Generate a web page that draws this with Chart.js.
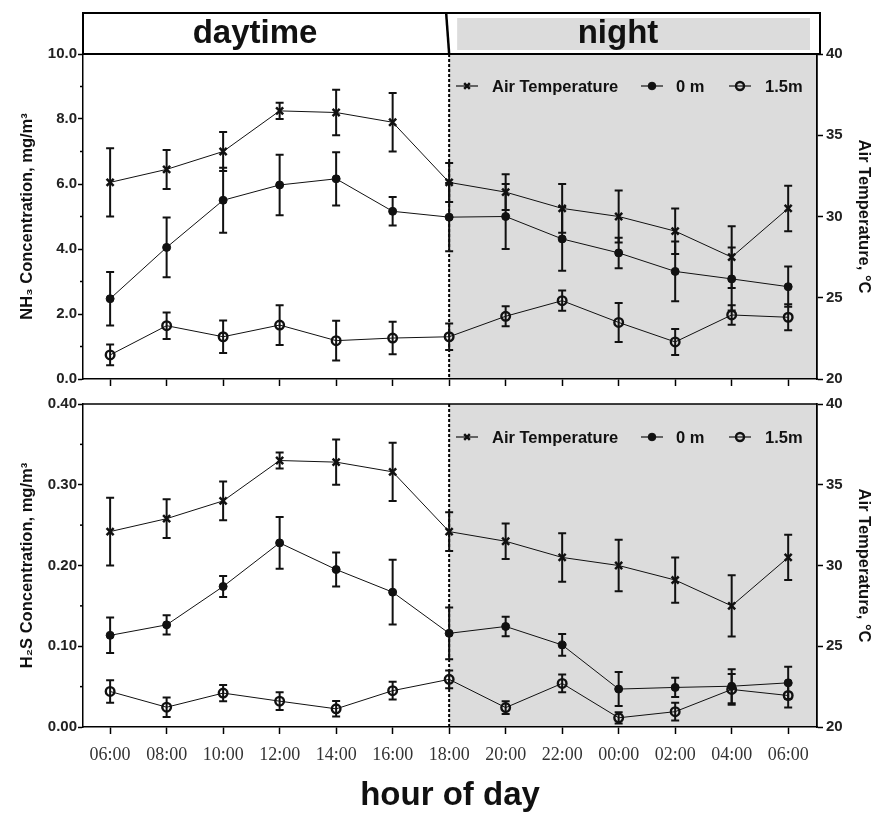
<!DOCTYPE html>
<html><head><meta charset="utf-8">
<script src="https://cdn.jsdelivr.net/npm/chart.js@4.4.1/dist/chart.umd.min.js"></script>
<style>
html,body{margin:0;padding:0;background:#fff;}
#top{position:absolute;left:0;top:0;}
#bot{position:absolute;left:0;top:392px;}
</style></head><body>
<canvas id="top" width="877" height="392"></canvas>
<canvas id="bot" width="877" height="421"></canvas>
<script>
// ---- data ----
const hours = ['06:00','08:00','10:00','12:00','14:00','16:00','18:00','20:00','22:00','00:00','02:00','04:00','06:00'];
const nightStartIndex = 6;
const airTemp    = [32.1, 32.9, 34.0, 36.5, 36.4, 35.8, 32.1, 31.5, 30.5, 30.0, 29.1, 27.5, 30.5];
const airTempErr = [2.1, 1.2, 1.2, 0.5, 1.4, 1.8, 1.2, 1.1, 1.5, 1.6, 1.4, 1.9, 1.4];
const nh3_0m     = [2.47, 4.05, 5.50, 5.97, 6.16, 5.16, 4.98, 5.00, 4.31, 3.88, 3.31, 3.08, 2.84];
const nh3_0mErr  = [0.82, 0.92, 1.00, 0.93, 0.82, 0.44, 1.05, 1.00, 0.98, 0.47, 0.92, 0.97, 0.62];
const nh3_15m    = [0.74, 1.64, 1.30, 1.66, 1.18, 1.26, 1.30, 1.93, 2.41, 1.74, 1.14, 1.97, 1.90];
const nh3_15mErr = [0.32, 0.41, 0.50, 0.61, 0.61, 0.50, 0.41, 0.31, 0.31, 0.60, 0.40, 0.30, 0.40];
const h2s_0m     = [0.1135, 0.1265, 0.174, 0.228, 0.195, 0.167, 0.116, 0.1245, 0.1016, 0.047, 0.049, 0.0505, 0.0547];
const h2s_0mErr  = [0.022, 0.012, 0.013, 0.032, 0.021, 0.040, 0.032, 0.012, 0.0135, 0.021, 0.012, 0.021, 0.020];
const h2s_15m    = [0.044, 0.0245, 0.042, 0.032, 0.0225, 0.045, 0.059, 0.024, 0.054, 0.0114, 0.019, 0.0465, 0.039];
const h2s_15mErr = [0.014, 0.012, 0.010, 0.011, 0.0096, 0.011, 0.011, 0.008, 0.011, 0.007, 0.011, 0.019, 0.015];
const seriesLabels = ['Air Temperature', '0 m', '1.5m'];
const headerLabels = ['daytime', 'night'];

// ---- styling helpers ----
const SANS = '"Liberation Sans", Arial, Helvetica, sans-serif';
const SERIF = '"Liberation Serif", "Times New Roman", serif';
const GREY = '#dcdcdc';
const INK = '#111';

function pts(arr){ return arr.map((v,i)=>({x:i, y:v})); }

function datasets(c0, e0, c15, e15){
  return [
    {label: seriesLabels[0], data: pts(airTemp), err: airTempErr, yAxisID:'y1',
     borderColor:INK, borderWidth:1, pointStyle:'crossRot', pointRadius:5, pointBorderWidth:2.5,
     pointBorderColor:INK, pointBackgroundColor:INK, fill:false, tension:0, legendRadius:4},
    {label: seriesLabels[1], data: pts(c0), err: e0, yAxisID:'y',
     borderColor:INK, borderWidth:1, pointStyle:'circle', pointRadius:4, pointBorderWidth:1,
     pointBorderColor:INK, pointBackgroundColor:INK, fill:false, tension:0, legendRadius:3.8},
    {label: seriesLabels[2], data: pts(c15), err: e15, yAxisID:'y',
     borderColor:INK, borderWidth:1, pointStyle:'circle', pointRadius:4.3, pointBorderWidth:2.4,
     pointBorderColor:INK, pointBackgroundColor:'rgba(0,0,0,0)', fill:false, tension:0, legendRadius:4}
  ];
}

const nightBg = {
  id:'nightBg',
  beforeDraw(chart){
    const {ctx, chartArea:a, scales:{x}} = chart;
    const x0 = x.getPixelForValue(nightStartIndex);
    ctx.save(); ctx.fillStyle = GREY;
    ctx.fillRect(x0, a.top, a.right - x0, a.bottom - a.top);
    ctx.restore();
  },
  beforeDatasetsDraw(chart){
    const {ctx, chartArea:a, scales:{x}} = chart;
    const x0 = x.getPixelForValue(nightStartIndex);
    ctx.save(); ctx.strokeStyle = '#000'; ctx.lineWidth = 2; ctx.setLineDash([3,2]);
    ctx.beginPath(); ctx.moveTo(x0, a.top); ctx.lineTo(x0, a.bottom); ctx.stroke();
    ctx.restore();
    // error bars
    chart.data.datasets.forEach((ds, di)=>{
      const meta = chart.getDatasetMeta(di);
      const ys = chart.scales[ds.yAxisID];
      ctx.save(); ctx.strokeStyle = INK; ctx.lineWidth = 2;
      meta.data.forEach((el, j)=>{
        const v = ds.data[j].y, e = ds.err[j];
        const yt = ys.getPixelForValue(v + e), yb = ys.getPixelForValue(v - e);
        ctx.beginPath();
        ctx.moveTo(el.x, yt); ctx.lineTo(el.x, yb);
        ctx.moveTo(el.x - 4, yt); ctx.lineTo(el.x + 4, yt);
        ctx.moveTo(el.x - 4, yb); ctx.lineTo(el.x + 4, yb);
        ctx.stroke();
      });
      ctx.restore();
    });
  },
  afterDraw(chart){
    const {ctx, chartArea:a, scales:{y}} = chart;
    const o = chart.options.plugins.nightBg;
    // minor ticks on left axis
    ctx.save(); ctx.strokeStyle = '#000'; ctx.lineWidth = 1.5;
    o.minor.forEach(v=>{
      const py = y.getPixelForValue(v);
      ctx.beginPath(); ctx.moveTo(a.left - 3, py); ctx.lineTo(a.left, py); ctx.stroke();
    });
    if (o.topBorder){
      ctx.beginPath(); ctx.moveTo(a.left, a.top); ctx.lineTo(a.right, a.top); ctx.stroke();
    }
    ctx.restore();
    // legend
    const ly = a.top + o.legendDy;
    const items = [{lx:456, tx:492}, {lx:641, tx:676}, {lx:729, tx:765}];
    chart.data.datasets.forEach((ds, di)=>{
      const it = items[di];
      ctx.save();
      ctx.strokeStyle = INK; ctx.lineWidth = 1.2;
      ctx.beginPath(); ctx.moveTo(it.lx, ly); ctx.lineTo(it.lx + 22, ly); ctx.stroke();
      ctx.fillStyle = ds.pointBackgroundColor; ctx.strokeStyle = ds.pointBorderColor;
      ctx.lineWidth = ds.pointBorderWidth;
      Chart.helpers.drawPoint(ctx, {pointStyle: ds.pointStyle, radius: ds.legendRadius, rotation:0, borderWidth: ds.pointBorderWidth}, it.lx + 11, ly);
      ctx.fillStyle = INK; ctx.font = 'bold 16.5px ' + SANS; ctx.textBaseline = 'middle'; ctx.textAlign = 'left';
      ctx.fillText(ds.label, it.tx, ly + 1);
      ctx.restore();
    });
    // header
    if (o.header){
      const x0 = chart.scales.x.getPixelForValue(nightStartIndex);
      const top = 13, bot = a.top, right = a.right + 3;
      ctx.save();
      ctx.fillStyle = GREY;
      ctx.fillRect(x0 + 8, top + 5, right - x0 - 18, bot - top - 9);
      ctx.strokeStyle = '#000'; ctx.lineWidth = 2;
      ctx.strokeRect(a.left, top, right - a.left, bot - top);
      ctx.lineWidth = 2.5;
      ctx.beginPath(); ctx.moveTo(x0 - 3, top); ctx.lineTo(x0, bot); ctx.stroke();
      ctx.fillStyle = INK; ctx.font = 'bold 33px ' + SANS; ctx.textAlign = 'center'; ctx.textBaseline = 'alphabetic';
      ctx.fillText(headerLabels[0], 255, 43);
      ctx.fillText(headerLabels[1], 618, 43);
      ctx.restore();
    }
  }
};

function makeChart(el, cfg){
  const tickFont = {family:SANS, size:15, weight:'bold'};
  const titleFont = {family:SANS, size:16.5, weight:'bold'};
  return new Chart(el, {
    type:'line',
    data:{datasets: cfg.ds},
    options:{
      responsive:false, animation:false, devicePixelRatio:1,
      layout:{padding:{top:cfg.padTop, left:0, right:0, bottom:0}},
      plugins:{legend:{display:false}, tooltip:{enabled:false},
        nightBg:{minor:cfg.minor, header:cfg.header, topBorder:!cfg.header, legendDy:cfg.legendDy}},
      scales:{
        x:{type:'linear', min:-0.48, max:12.51,
           afterFit: s=>{ s.height = cfg.xH; },
           afterBuildTicks: s=>{ s.ticks = hours.map((h,i)=>({value:i})); },
           ticks:{display:cfg.xLabels, autoSkip:false, maxRotation:0, includeBounds:false,
                  callback: v=>hours[v], font:{family:SERIF, size:18}, color:'#333', padding:10},
           grid:{drawOnChartArea:false, drawTicks:true, tickLength:7, tickWidth:1.5, tickColor:'#000'},
           border:{display:true, color:'#000', width:1.5},
           title:{display:cfg.xLabels, text:'hour of day', font:{family:SANS, size:33, weight:'bold', lineHeight:1}, color:INK, padding:{top:0, bottom:1}}
        },
        y:{position:'left', min:0, max:cfg.yMax,
           afterFit: s=>{ s.width = 83; },
           afterBuildTicks: s=>{ s.ticks = cfg.yTicks.map(v=>({value:v})); },
           ticks:{callback: v=>v.toFixed(cfg.yDec), font:tickFont, color:'#222', padding:1},
           grid:{drawOnChartArea:false, tickLength:5, tickWidth:1.5, tickColor:'#000'},
           border:{color:'#000', width:1.5},
           title:{display:true, text:cfg.yTitle, font:titleFont, color:INK, padding:{top:18, bottom:0}}
        },
        y1:{position:'right', min:20, max:40,
           afterFit: s=>{ s.width = 60; },
           ticks:{stepSize:5, font:tickFont, color:'#222', padding:3},
           grid:{drawOnChartArea:false, tickLength:6, tickWidth:1.5, tickColor:'#000'},
           border:{color:'#000', width:1.8, dash:[3,2]},
           title:{display:true, text:'Air Temperature, °C', font:titleFont, color:INK, padding:{top:4, bottom:0}}
        }
      }
    },
    plugins:[nightBg]
  });
}

makeChart(document.getElementById('top'), {
  ds: datasets(nh3_0m, nh3_0mErr, nh3_15m, nh3_15mErr),
  padTop:54, xH:13, xLabels:false, header:true, legendDy:32,
  yMax:10, yTicks:[0,2,4,6,8,10], yDec:1, minor:[1,3,5,7,9],
  yTitle:'NH₃ Concentration, mg/m³'
});
makeChart(document.getElementById('bot'), {
  ds: datasets(h2s_0m, h2s_0mErr, h2s_15m, h2s_15mErr),
  padTop:8, xH:86, xLabels:true, header:false, legendDy:33,
  yMax:0.4, yTicks:[0,0.1,0.2,0.3,0.4], yDec:2, minor:[0.05,0.15,0.25,0.35],
  yTitle:'H₂S Concentration, mg/m³'
});
</script>
</body></html>
